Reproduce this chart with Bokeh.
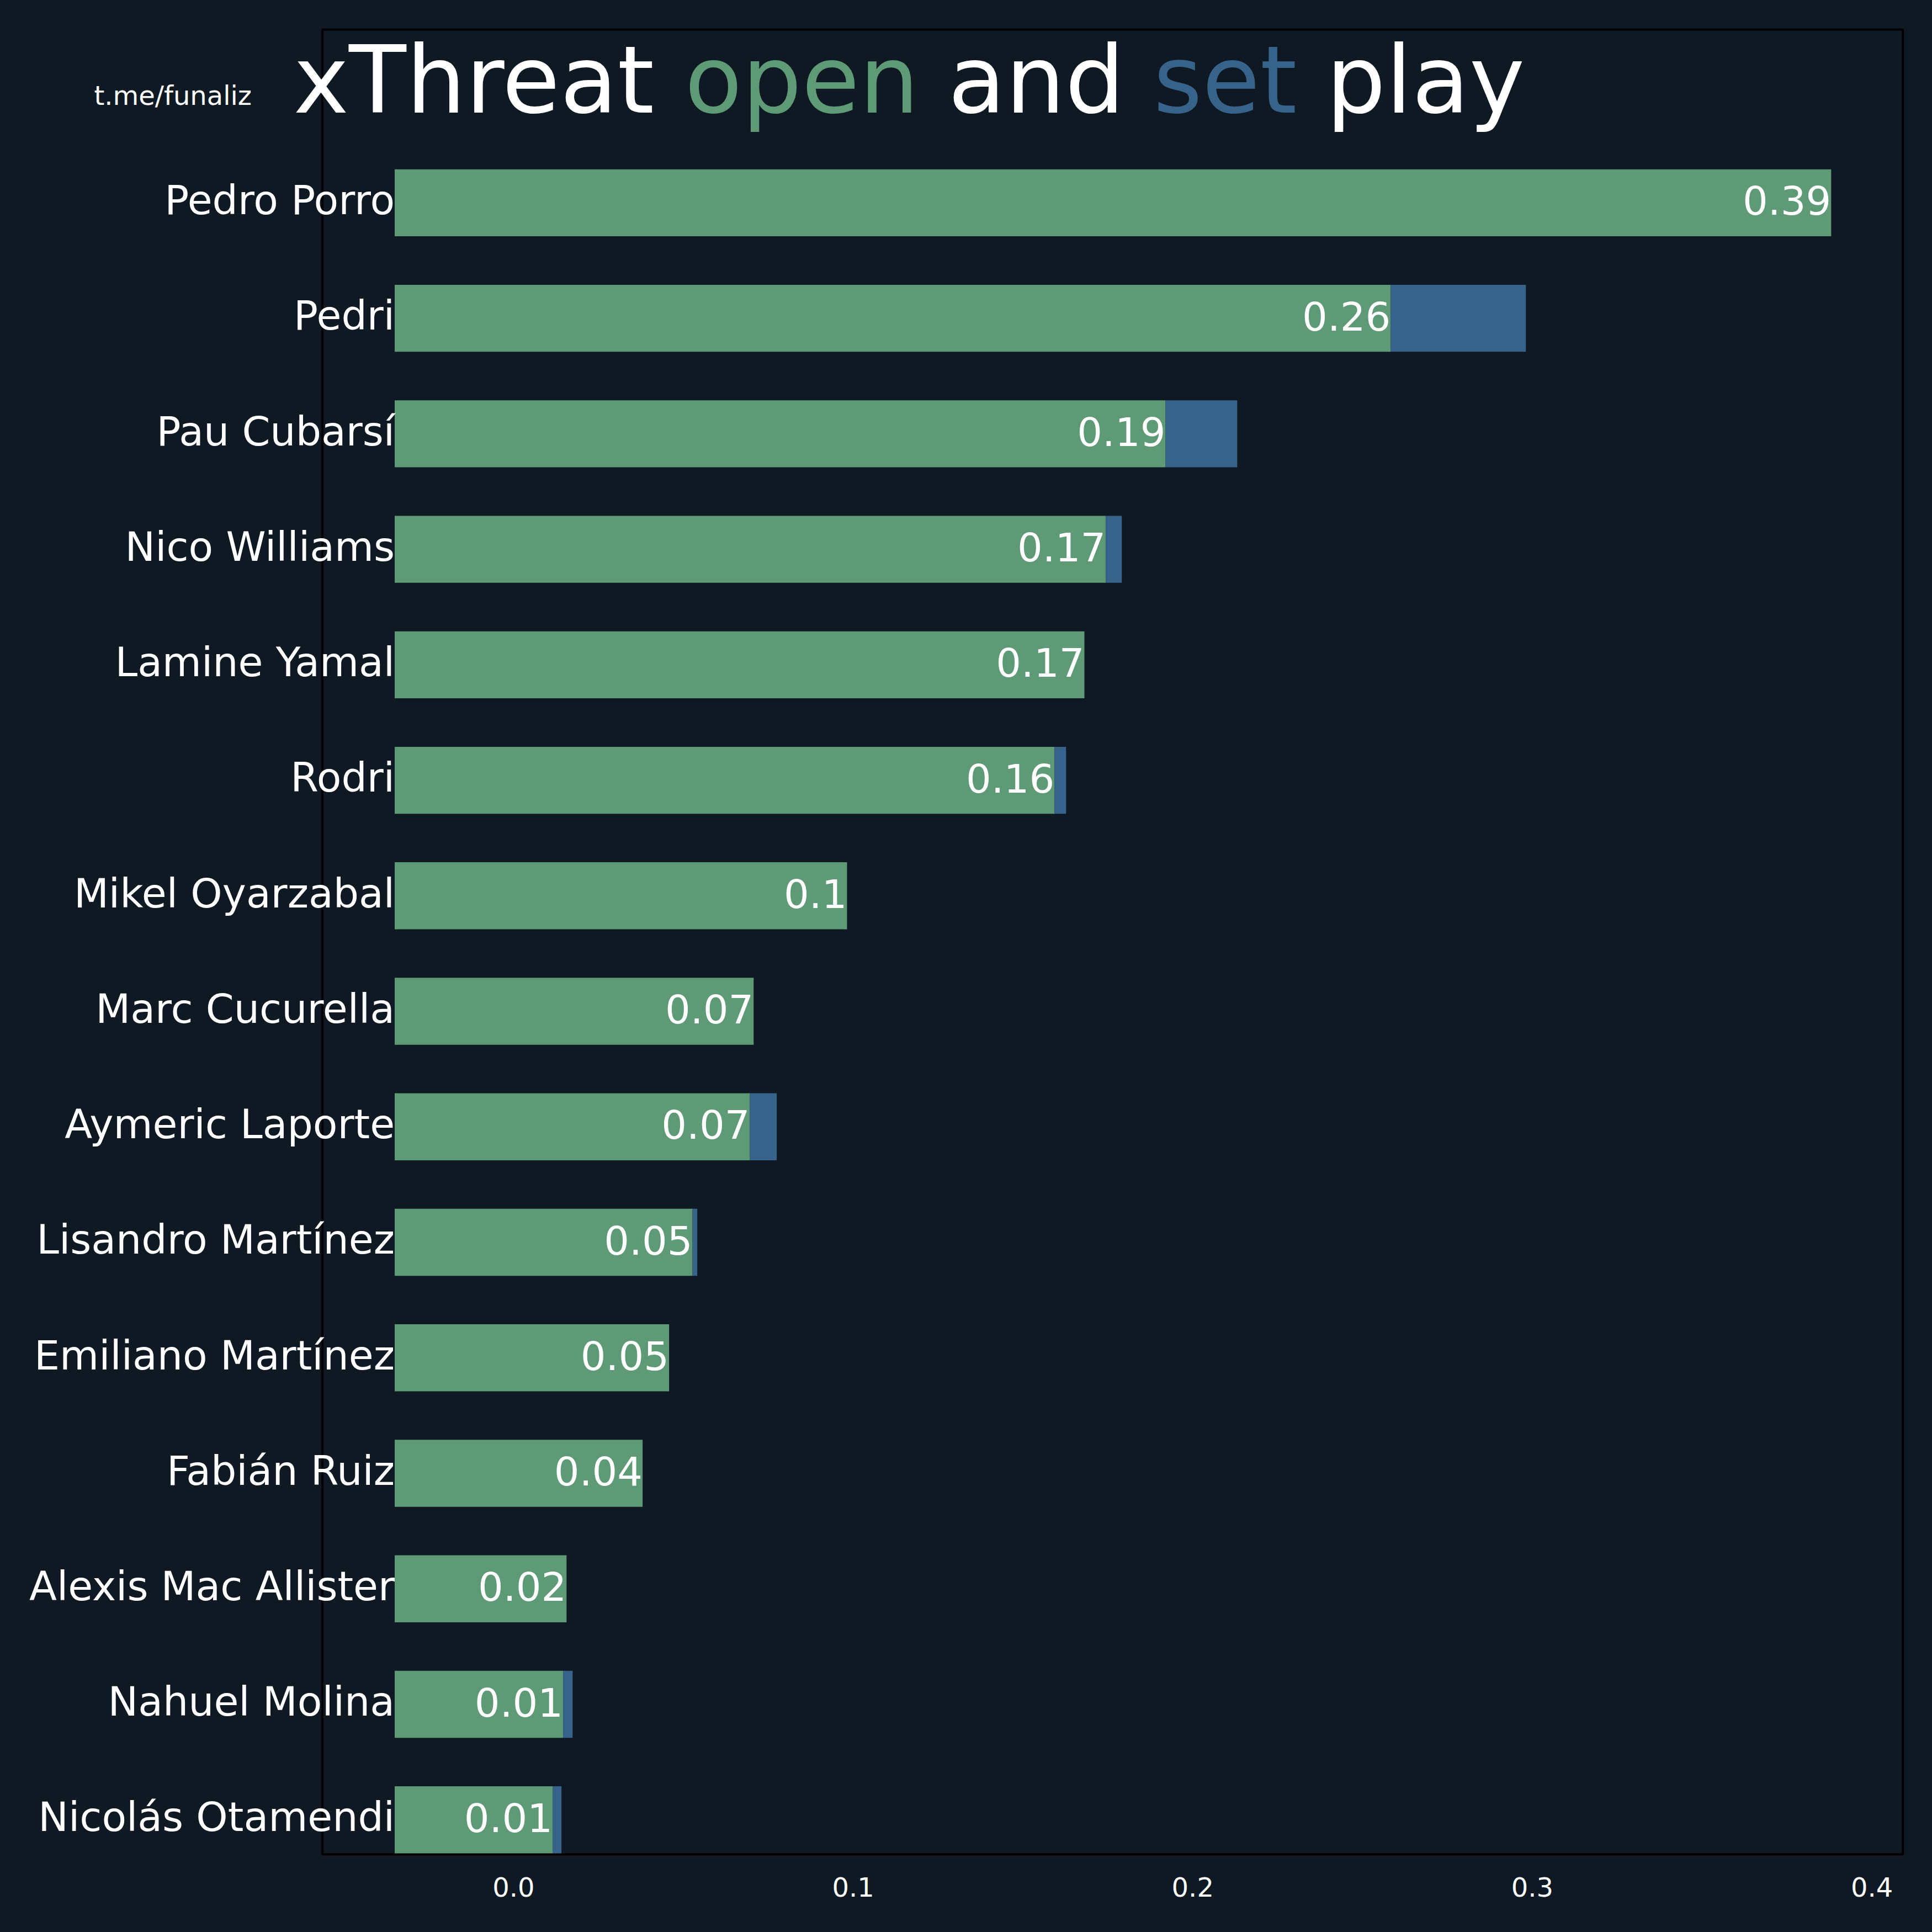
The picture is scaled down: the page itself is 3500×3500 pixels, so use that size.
from bokeh.plotting import figure
from bokeh.models import ColumnDataSource, Range1d, FixedTicker, PrintfTickFormatter
from bokeh.core.properties import value
from bokeh.embed import file_html
from bokeh.resources import INLINE

# ---- data (top to bottom) ----
players = ["Pedro Porro", "Pedri", "Pau Cubarsí", "Nico Williams", "Lamine Yamal", "Rodri",
           "Mikel Oyarzabal", "Marc Cucurella", "Aymeric Laporte", "Lisandro Martínez",
           "Emiliano Martínez", "Fabián Ruiz", "Alexis Mac Allister", "Nahuel Molina",
           "Nicolás Otamendi"]
open_play = [0.3880, 0.2583, 0.1920, 0.1744, 0.1681, 0.1593, 0.0982, 0.0707, 0.0696,
             0.0527, 0.0458, 0.0380, 0.0156, 0.0146, 0.0115]
set_play = [0.0, 0.0398, 0.0211, 0.0047, 0.0, 0.0034, 0.0, 0.0, 0.0079,
            0.0014, 0.0, 0.0, 0.0, 0.0028, 0.0026]
x_ticks = [0.0, 0.1, 0.2, 0.3, 0.4]

BAR_START = -0.035
BAR_HEIGHT = 0.58

BG = "#0f1923"
GREEN = "#5f9a76"
BLUE = "#37638a"
FONT = "DejaVu Sans"

# axes box (data) and its place on the page (pixels)
X0, X1 = -0.0563, 0.4091
Y0, Y1 = -0.3, 15.5
W, H = 3500, 3500
BOX_L, BOX_T = 583.5, 53.0
PX_X = 6152.0    # pixels per x unit
PX_Y = 209.24    # pixels per y unit
FRAME_BOTTOM = 3362.0
SHIFT_EM = 0.343  # renderer places the text this much (em) below the anchor


def dx(px):
    return X0 + (px - BOX_L) / PX_X


def dy(py):
    return Y1 - (py - BOX_T) / PX_Y


def base_y(py, fs):
    # data y so that the text baseline lands on window pixel py
    return dy(py - SHIFT_EM * fs)


n = len(players)
ys = [n - 1 - i for i in range(n)]
set_end = [o + s for o, s in zip(open_play, set_play)]
val_labels = [("%g" % round(v, 2)) for v in open_play]
NAME_FS = 73
VAL_FS = 72
name_y = [y - (20.3 - SHIFT_EM * NAME_FS) / PX_Y for y in ys]
val_y = [y - (20.3 - SHIFT_EM * VAL_FS) / PX_Y for y in ys]

src = ColumnDataSource(dict(
    y=ys, ny=name_y, vy=val_y, player=players, start=[BAR_START] * n,
    open_end=open_play, set_end=set_end, val=val_labels,
))

p = figure(width=W, height=H, output_backend="svg", toolbar_location=None,
           x_range=Range1d(dx(0), dx(W)), y_range=Range1d(dy(FRAME_BOTTOM), dy(0)),
           min_border_left=0, min_border_right=0, min_border_top=0,
           min_border_bottom=int(H - FRAME_BOTTOM))

p.background_fill_color = None
p.border_fill_color = None
p.styles = {"background-color": BG}
p.outline_line_color = None
p.grid.visible = False
p.yaxis.visible = False

xa = p.xaxis[0]
xa.ticker = FixedTicker(ticks=x_ticks)
xa.formatter = PrintfTickFormatter(format="%.1f")
xa.axis_line_color = None
xa.major_tick_line_color = None
xa.minor_tick_line_color = None
xa.major_tick_out = 0
xa.major_tick_in = 0
xa.major_label_standoff = 38
xa.major_label_text_font = FONT
xa.major_label_text_font_size = "48px"
xa.major_label_text_color = "white"

# axes box
p.quad(left=[X0], right=[X1], bottom=[Y0], top=[Y1], fill_color=None,
       line_color="black", line_width=4)

p.hbar(y="y", left="start", right="open_end", height=BAR_HEIGHT, source=src,
       fill_color=GREEN, line_color=None)
p.hbar(y="y", left="open_end", right="set_end", height=BAR_HEIGHT, source=src,
       fill_color=BLUE, line_color=None)

p.text(x="start", y="ny", text="player", source=src, text_align="right",
       text_baseline="alphabetic", text_font=value(FONT), text_font_size="%dpx" % NAME_FS,
       text_color="white")
p.text(x="open_end", y="vy", text="val", source=src, text_align="right",
       text_baseline="alphabetic", text_font=value(FONT), text_font_size="%dpx" % VAL_FS,
       text_color="white")

title_words = ["xThreat", "open", "and", "set", "play"]
title_colors = ["white", GREEN, "white", BLUE, "white"]
title_px = [531, 1240, 1717, 2089, 2402]
TITLE_FS = 170
p.text(x=[dx(v) for v in title_px], y=[base_y(203, TITLE_FS)] * len(title_words),
       text=title_words, text_color=title_colors, text_font=value(FONT),
       text_font_size="%dpx" % TITLE_FS, text_align="left", text_baseline="alphabetic")

WM_FS = 48
p.text(x=[dx(170)], y=[base_y(189, WM_FS)], text=["t.me/funaliz"], text_color="white",
       text_font=value(FONT), text_font_size="%dpx" % WM_FS, text_align="left",
       text_baseline="alphabetic")

open("out.html", "w").write(file_html(p, INLINE))
